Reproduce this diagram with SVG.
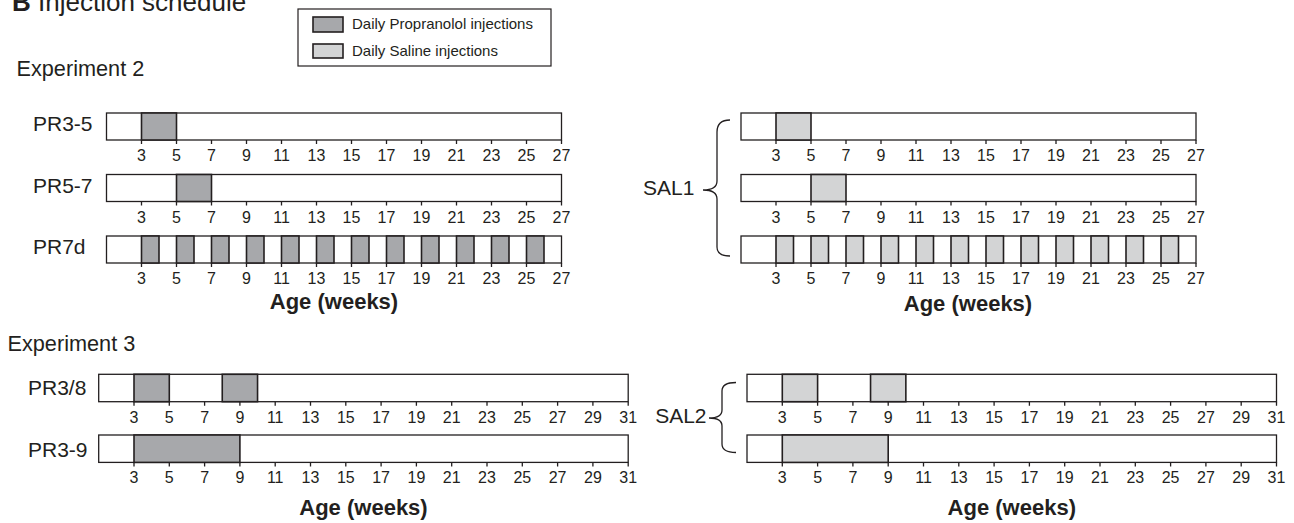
<svg xmlns="http://www.w3.org/2000/svg" width="1294" height="523" viewBox="0 0 1294 523">
<style>
text{font-family:"Liberation Sans",Arial,sans-serif;fill:#231f20}
.title{font-size:26px}
.exp{font-size:21.7px}
.lbl{font-size:21px}
.tk{font-size:16px;text-anchor:middle}
.age{font-size:22px;font-weight:bold;text-anchor:middle}
.leg{font-size:15px}
.bar{fill:#fff;stroke:#231f20;stroke-width:1.3}
.pr{fill:#a7a8ab;stroke:#231f20;stroke-width:1.6}
.sal{fill:#d3d4d5;stroke:#231f20;stroke-width:1.6}
.tick{stroke:#231f20;stroke-width:1.3;fill:none}
.brace{stroke:#231f20;stroke-width:1.3;fill:none}
</style>
<defs>
<g id="ax27">
<path class="tick" d="M0,0v4M35,0v4M70,0v4M105,0v4M140,0v4M175,0v4M210,0v4M245,0v4M280,0v4M315,0v4M350,0v4M385,0v4M420,0v4"/>
<text class="tk" x="0" y="21">3</text><text class="tk" x="35" y="21">5</text><text class="tk" x="70" y="21">7</text><text class="tk" x="105" y="21">9</text><text class="tk" x="140" y="21">11</text><text class="tk" x="175" y="21">13</text><text class="tk" x="210" y="21">15</text><text class="tk" x="245" y="21">17</text><text class="tk" x="280" y="21">19</text><text class="tk" x="315" y="21">21</text><text class="tk" x="350" y="21">23</text><text class="tk" x="385" y="21">25</text><text class="tk" x="420" y="21">27</text>
</g>
<g id="ax31">
<path class="tick" d="M0,0v4M35.3,0v4M70.6,0v4M105.9,0v4M141.2,0v4M176.5,0v4M211.8,0v4M247.1,0v4M282.4,0v4M317.7,0v4M353,0v4M388.3,0v4M423.6,0v4M458.9,0v4M494.2,0v4"/>
<text class="tk" x="0" y="21">3</text><text class="tk" x="35.3" y="21">5</text><text class="tk" x="70.6" y="21">7</text><text class="tk" x="105.9" y="21">9</text><text class="tk" x="141.2" y="21">11</text><text class="tk" x="176.5" y="21">13</text><text class="tk" x="211.8" y="21">15</text><text class="tk" x="247.1" y="21">17</text><text class="tk" x="282.4" y="21">19</text><text class="tk" x="317.7" y="21">21</text><text class="tk" x="353" y="21">23</text><text class="tk" x="388.3" y="21">25</text><text class="tk" x="423.6" y="21">27</text><text class="tk" x="458.9" y="21">29</text><text class="tk" x="494.2" y="21">31</text>
</g>
<rect id="bar27" class="bar" x="-35" y="0" width="455" height="27"/>
<rect id="bar31" class="bar" x="-35.3" y="0" width="529.5" height="27.4"/>
</defs>

<g id="title">
<text class="title" x="12" y="11"><tspan font-weight="bold">B</tspan> Injection schedule</text>
</g>

<g id="legend">
<rect x="298" y="9" width="253" height="57" fill="#fff" stroke="#231f20" stroke-width="1.2"/>
<rect class="pr" x="313" y="17" width="30" height="15"/>
<text class="leg" x="352" y="29">Daily Propranolol injections</text>
<rect class="sal" x="313" y="44" width="30" height="14"/>
<text class="leg" x="352" y="56">Daily Saline injections</text>
</g>

<text class="exp" x="16.5" y="76">Experiment 2</text>
<text class="exp" x="7.5" y="350.7">Experiment 3</text>

<!-- Experiment 2, propranolol -->
<g id="PR3-5">
<text class="lbl" x="33" y="131">PR3-5</text>
<g transform="translate(141.5,113)">
<use href="#bar27"/>
<rect class="pr" x="0" y="0" width="35" height="27"/>
<use href="#ax27" y="27"/>
</g>
</g>
<g id="PR5-7">
<text class="lbl" x="33" y="192.5">PR5-7</text>
<g transform="translate(141.5,174.5)">
<use href="#bar27"/>
<rect class="pr" x="35" y="0" width="35" height="27"/>
<use href="#ax27" y="27"/>
</g>
</g>
<g id="PR7d">
<text class="lbl" x="33" y="254">PR7d</text>
<g transform="translate(141.5,236)">
<use href="#bar27"/>
<rect class="pr" x="0" y="0" width="17.5" height="27"/>
<rect class="pr" x="35" y="0" width="17.5" height="27"/>
<rect class="pr" x="70" y="0" width="17.5" height="27"/>
<rect class="pr" x="105" y="0" width="17.5" height="27"/>
<rect class="pr" x="140" y="0" width="17.5" height="27"/>
<rect class="pr" x="175" y="0" width="17.5" height="27"/>
<rect class="pr" x="210" y="0" width="17.5" height="27"/>
<rect class="pr" x="245" y="0" width="17.5" height="27"/>
<rect class="pr" x="280" y="0" width="17.5" height="27"/>
<rect class="pr" x="315" y="0" width="17.5" height="27"/>
<rect class="pr" x="350" y="0" width="17.5" height="27"/>
<rect class="pr" x="385" y="0" width="17.5" height="27"/>
<use href="#ax27" y="27"/>
</g>
</g>
<text class="age" x="334" y="309">Age (weeks)</text>

<!-- Experiment 2, saline -->
<g id="SAL1">
<text class="lbl" x="643" y="194.5">SAL1</text>
<g transform="translate(776,113)">
<use href="#bar27"/>
<rect class="sal" x="0" y="0" width="35" height="27"/>
<use href="#ax27" y="27"/>
</g>
<g transform="translate(776,174.5)">
<use href="#bar27"/>
<rect class="sal" x="35" y="0" width="35" height="27"/>
<use href="#ax27" y="27"/>
</g>
<g transform="translate(776,236)">
<use href="#bar27"/>
<rect class="sal" x="0" y="0" width="17.5" height="27"/>
<rect class="sal" x="35" y="0" width="17.5" height="27"/>
<rect class="sal" x="70" y="0" width="17.5" height="27"/>
<rect class="sal" x="105" y="0" width="17.5" height="27"/>
<rect class="sal" x="140" y="0" width="17.5" height="27"/>
<rect class="sal" x="175" y="0" width="17.5" height="27"/>
<rect class="sal" x="210" y="0" width="17.5" height="27"/>
<rect class="sal" x="245" y="0" width="17.5" height="27"/>
<rect class="sal" x="280" y="0" width="17.5" height="27"/>
<rect class="sal" x="315" y="0" width="17.5" height="27"/>
<rect class="sal" x="350" y="0" width="17.5" height="27"/>
<rect class="sal" x="385" y="0" width="17.5" height="27"/>
<use href="#ax27" y="27"/>
</g>
</g>
<text class="age" x="968" y="311">Age (weeks)</text>

<!-- Experiment 3, propranolol -->
<g id="PR3-8">
<text class="lbl" x="28" y="395">PR3/8</text>
<g transform="translate(134,374.3)">
<use href="#bar31"/>
<rect class="pr" x="0" y="0" width="35.3" height="27.4"/>
<rect class="pr" x="88.25" y="0" width="35.3" height="27.4"/>
<use href="#ax31" y="27.4"/>
</g>
</g>
<g id="PR3-9">
<text class="lbl" x="28" y="456.5">PR3-9</text>
<g transform="translate(134,435)">
<use href="#bar31"/>
<rect class="pr" x="0" y="0" width="105.9" height="27.4"/>
<use href="#ax31" y="27.4"/>
</g>
</g>
<text class="age" x="363.5" y="515">Age (weeks)</text>

<!-- Experiment 3, saline -->
<g id="SAL2">
<text class="lbl" x="706.5" y="422.5" text-anchor="end">SAL2</text>
<g transform="translate(782.3,374.3)">
<use href="#bar31"/>
<rect class="sal" x="0" y="0" width="35.3" height="27.4"/>
<rect class="sal" x="88.25" y="0" width="35.3" height="27.4"/>
<use href="#ax31" y="27.4"/>
</g>
<g transform="translate(782.3,435)">
<use href="#bar31"/>
<rect class="sal" x="0" y="0" width="105.9" height="27.4"/>
<use href="#ax31" y="27.4"/>
</g>
</g>
<text class="age" x="1011.8" y="515">Age (weeks)</text>

<g id="connectors">
<path class="brace" d="M730,120 C721,120 717,124 717,132 L717,181 C717,187 712,190 703,190 C712,190 717,193 717,199 L717,247 C717,253 721,256 730,256"/>
<path class="brace" d="M736,382.5 C727,382.5 722,385 722,391 L722,410 C722,415 718,418 709,418 C718,418 722,421 722,426 L722,444 C722,450 727,452.5 736,452.5"/>
</g>
</svg>
